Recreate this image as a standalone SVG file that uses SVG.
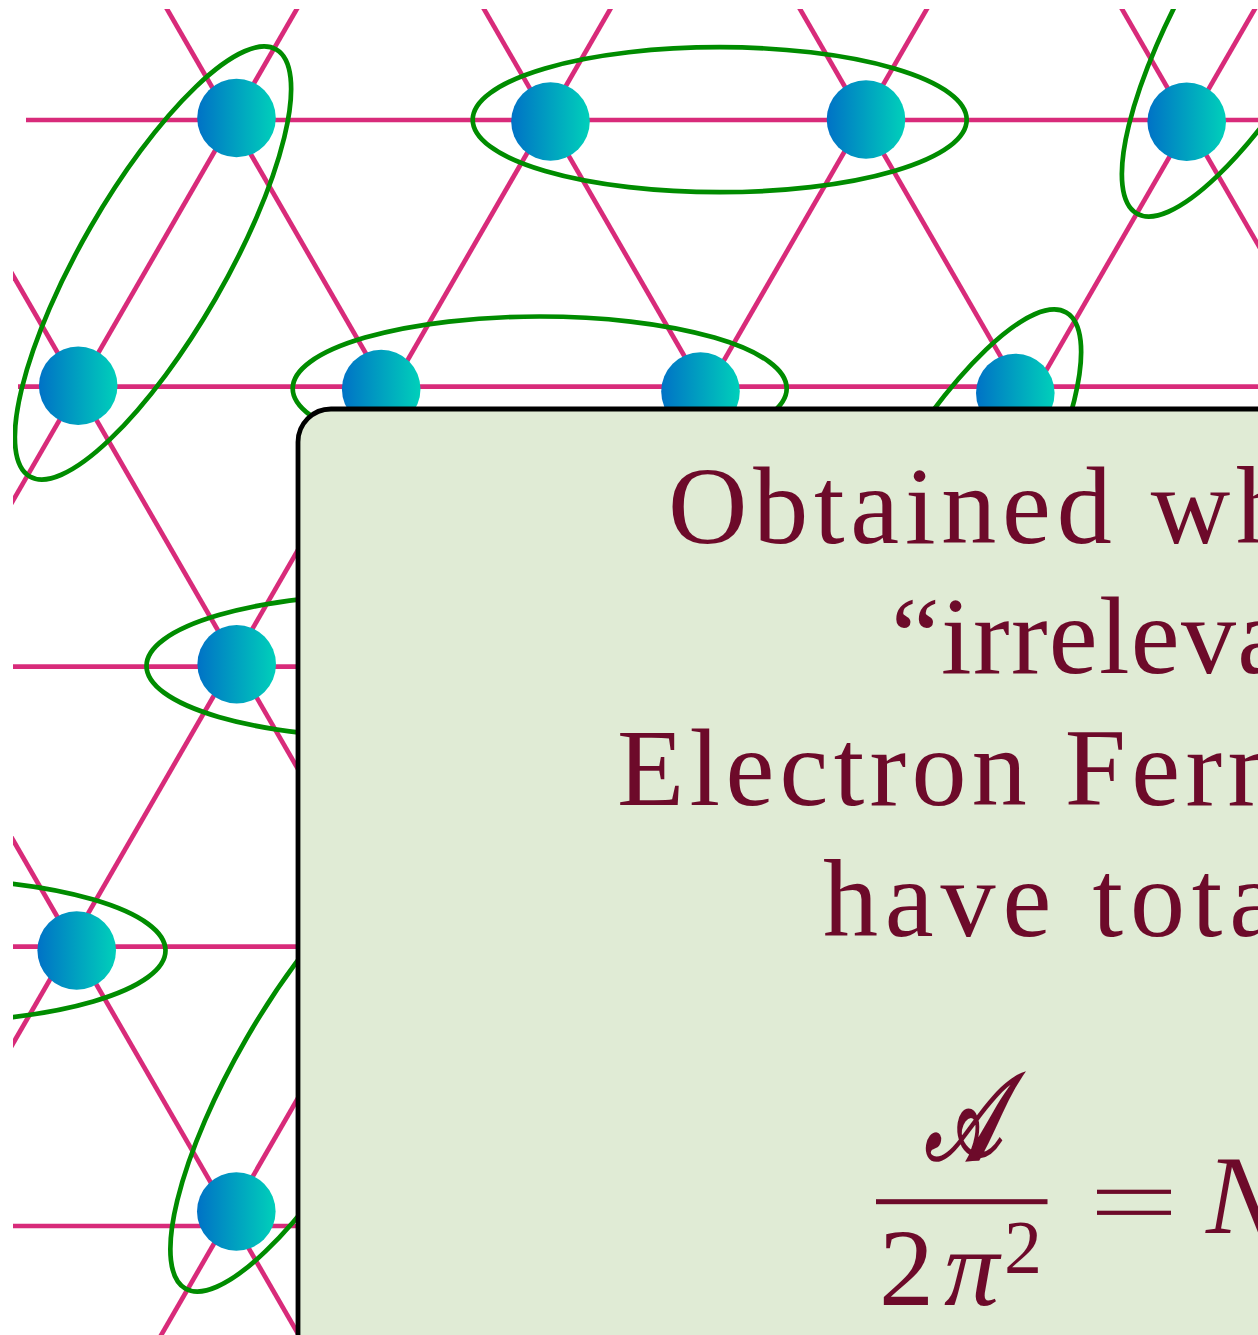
<svg xmlns="http://www.w3.org/2000/svg" width="1258" height="1335" viewBox="0 0 1258 1335">
<defs>
<linearGradient id="g" x1="0" y1="0" x2="1" y2="0">
<stop offset="0" stop-color="#0072c6"/>
<stop offset="1" stop-color="#00d0ba"/>
</linearGradient>
<clipPath id="clip"><rect x="13" y="9" width="1300" height="1400"/></clipPath>
<style>
.ln{stroke:#d82b7a;stroke-width:4.7;fill:none}
.dm{stroke:#008c00;stroke-width:4.7;fill:none}
.nd{fill:url(#g)}
.tx{font-family:"Liberation Serif","Times New Roman",serif;font-size:110px;fill:#6d0a2a}
.mt{font-family:"Liberation Serif","Times New Roman",serif;fill:#6d0a2a}
</style>
</defs>
<rect width="1258" height="1335" fill="#ffffff"/>
<g clip-path="url(#clip)">
<g id="connectors">
<line class="ln" x1="26" y1="120" x2="1270" y2="120"/>
<line class="ln" x1="18" y1="386.7" x2="1270" y2="386.7"/>
<line class="ln" x1="0" y1="666.7" x2="1270" y2="666.7"/>
<line class="ln" x1="0" y1="946.7" x2="1270" y2="946.7"/>
<line class="ln" x1="0" y1="1226" x2="1270" y2="1226"/>
<line class="ln" x1="-151.8" y1="-10" x2="662.3" y2="1400"/>
<line class="ln" x1="-477.8" y1="-10" x2="336.3" y2="1400"/>
<line class="ln" x1="156" y1="-10" x2="970.1" y2="1400"/>
<line class="ln" x1="473" y1="-10" x2="1287.1" y2="1400"/>
<line class="ln" x1="789" y1="-10" x2="1603.1" y2="1400"/>
<line class="ln" x1="1111" y1="-10" x2="1925.1" y2="1400"/>
<line class="ln" x1="307.8" y1="-10" x2="-506.3" y2="1400"/>
<line class="ln" x1="621.3" y1="-10" x2="-192.8" y2="1400"/>
<line class="ln" x1="937.8" y1="-10" x2="123.7" y2="1400"/>
<line class="ln" x1="1265.8" y1="-10" x2="451.7" y2="1400"/>
</g>
<g id="nodes">
<circle id="n1" class="nd" cx="236.5" cy="118" r="39.3"/>
<circle id="n2" class="nd" cx="550.5" cy="121.5" r="39.3"/>
<circle id="n3" class="nd" cx="866" cy="119.5" r="39.3"/>
<circle id="n4" class="nd" cx="1186.7" cy="121.8" r="39.3"/>
<circle id="n5" class="nd" cx="78.2" cy="385.8" r="39.3"/>
<circle id="n6" class="nd" cx="381.2" cy="389" r="39.3"/>
<circle id="n7" class="nd" cx="700.5" cy="391.5" r="39.3"/>
<circle id="n8" class="nd" cx="1015.3" cy="393" r="39.3"/>
<circle id="n9" class="nd" cx="236.7" cy="664.3" r="39.3"/>
<circle id="n10" class="nd" cx="76.7" cy="950.5" r="39.3"/>
<circle id="n11" class="nd" cx="236.3" cy="1211.5" r="39.3"/>
</g>
<g id="dimers">
<ellipse id="d1" class="dm" cx="153" cy="263" rx="246.5" ry="72" transform="rotate(-60 153 263)"/>
<ellipse id="d2" class="dm" cx="719.7" cy="119.7" rx="247" ry="72.5"/>
<ellipse id="d3" class="dm" cx="1260" cy="0" rx="246.5" ry="72" transform="rotate(-60 1260 0)"/>
<ellipse id="d4" class="dm" cx="539.7" cy="388.5" rx="247" ry="72"/>
<ellipse id="d5" class="dm" cx="943" cy="526" rx="246.5" ry="72" transform="rotate(-60 943 526)"/>
<ellipse id="d6" class="dm" cx="393" cy="666" rx="246.5" ry="72"/>
<ellipse id="d7" class="dm" cx="-81" cy="950.5" rx="246.5" ry="72"/>
<ellipse id="d8" class="dm" cx="308.5" cy="1075" rx="246.5" ry="72" transform="rotate(-60 308.5 1075)"/>
</g>
</g>
<g id="box">
<rect x="298" y="409" width="1200" height="1200" rx="33" ry="33" fill="#e0ebd5" stroke="#000000" stroke-width="4.8"/>
<text class="tx" x="668" y="543" textLength="623" lengthAdjust="spacing">Obtained wh</text>
<text class="tx" x="891" y="673" textLength="395" lengthAdjust="spacing">“irreleva</text>
<text class="tx" x="617" y="805" textLength="696" lengthAdjust="spacing">Electron Ferm</text>
<text class="tx" x="823" y="936" textLength="455" lengthAdjust="spacing">have tota</text>
<text class="mt" x="0" y="0" font-size="100" font-style="italic" font-weight="bold" text-anchor="middle" transform="translate(963 1159) scale(0.8 1.2)">𝒜</text>
<rect x="876" y="1199.2" width="171.5" height="5" fill="#6d0a2a"/>
<text class="mt" x="879" y="1305" font-size="110">2<tspan font-style="italic" dx="10">π</tspan><tspan font-size="76" dy="-32" dx="5">2</tspan></text>
<rect x="1097" y="1189.7" width="74" height="4.2" fill="#6d0a2a"/>
<rect x="1097" y="1210.7" width="74" height="4.2" fill="#6d0a2a"/>
<text class="mt" x="1206" y="1233" font-size="112" font-style="italic">N</text>
</g>
</svg>
